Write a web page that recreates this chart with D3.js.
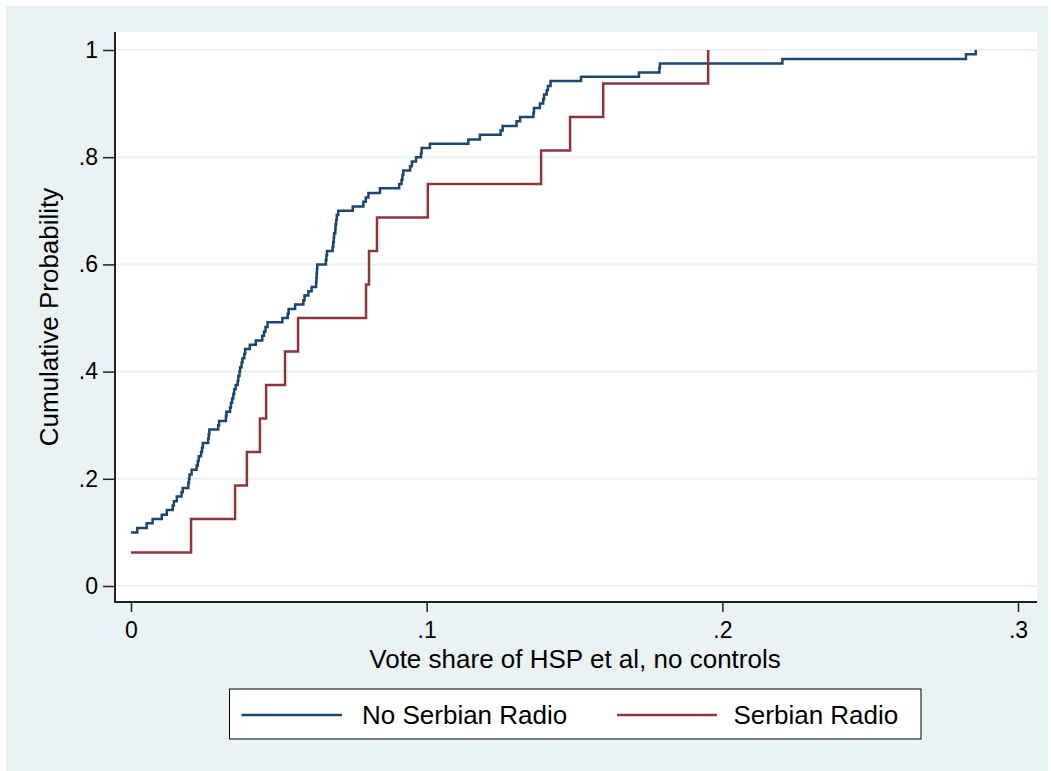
<!DOCTYPE html>
<html>
<head>
<meta charset="utf-8">
<script src="https://cdn.jsdelivr.net/npm/d3@7"></script>
<style>
	body { margin: 0; background: #fff; }
	text { font-family: "Liberation Sans", Arial, Helvetica, sans-serif; fill: #000; }
</style>
</head>
<body>
<svg id="chart" width="1051" height="771"></svg>
<script>
// ECDF of vote share, no Serbian radio
const noRadioX = [0, .0021, .0053, .0073, .0104, .0121, .0141, .0145, .0155, .0171, .0175, .0194, .0196, .0198,
	.0205, .0222, .0226, .0229, .0237, .0240, .0243, .0261, .0263, .0265, .0295, .0298, .0321, .0323, .0335, .0338,
	.0342, .0346, .0349, .0354, .0361, .0363, .0367, .0369, .0374, .0377, .0383, .0386, .0402, .0422, .0444, .0450,
	.0455, .0462, .0512, .0530, .0533, .0555, .0583, .0587, .0600, .0611, .0626, .0627, .0628, .0629, .0630, .0659,
	.0661, .0663, .0682, .0684, .0686, .0687, .0691, .0692, .0694, .0696, .0701, .0750, .0786, .0794, .0803, .0842,
	.0907, .0915, .0918, .0921, .0944, .0950, .0964, .0981, .0983, .1011, .1141, .1180, .1250, .1257, .1304, .1316,
	.1361, .1363, .1383, .1394, .1397, .1406, .1410, .1419, .1522, .1718, .1787, .1789, .2203, .2824, .2857];
const noRadioP = [.100, .108, .117, .125, .133, .142, .150, .158, .167, .175, .183, .192, .200, .208,
	.217, .225, .233, .242, .250, .258, .267, .275, .283, .292, .300, .308, .317, .325, .333, .342,
	.350, .358, .367, .375, .383, .392, .400, .408, .417, .425, .433, .442, .450, .458, .467, .475,
	.483, .492, .500, .508, .517, .525, .533, .542, .550, .558, .567, .575, .583, .592, .600, .608,
	.617, .625, .633, .642, .650, .658, .667, .675, .683, .692, .700, .708, .717, .725, .733, .742,
	.750, .758, .767, .775, .783, .792, .800, .808, .817, .825, .833, .842, .850, .858, .867, .875,
	.883, .892, .900, .908, .917, .925, .933, .942, .950, .958, .967, .975, .983, .992, 1.000];

// ECDF with Serbian radio
const radioX = [0, .0203, .0352, .0392, .0436, .0457, .0521, .0565, .0795, .0805, .0832, .1004, .1387, .1485, .1597, .1952];
const radioP = [.0625, .125, .1875, .25, .3125, .375, .4375, .5, .5625, .625, .6875, .75, .8125, .875, .9375, 1];

const xTicks = [0, .1, .2, .3];
const yTicks = [0, .2, .4, .6, .8, 1];
const xTitle = "Vote share of HSP et al, no controls";
const yTitle = "Cumulative Probability";
const seriesNames = ["No Serbian Radio", "Serbian Radio"];
const seriesColors = ["#1a476f", "#90353b"];

// layout
const W = 1051, H = 771;
const bgBox = {x: 6, y: 6, w: 1042, h: 765};
const plotBox = {left: 115, right: 1037, top: 32, bottom: 602};
const legendBox = {x: 229.5, y: 689, w: 691.5, h: 50};

const svg = d3.select("#chart");

svg.append("rect")
	.attr("x", bgBox.x).attr("y", bgBox.y)
	.attr("width", bgBox.w).attr("height", bgBox.h)
	.attr("fill", "#eaf2f3");

svg.append("rect")
	.attr("x", plotBox.left).attr("y", plotBox.top)
	.attr("width", plotBox.right - plotBox.left).attr("height", plotBox.bottom - plotBox.top)
	.attr("fill", "#fff");

const x = d3.scaleLinear().domain([0, .3]).range([131, 1018]);
const y = d3.scaleLinear().domain([0, 1]).range([586, 50]);

// stata style labels: drop leading zero
const stataFmt = d => d === 0 ? "0" : d === 1 ? "1" : d3.format(".1f")(d).replace(/^0/, "");

// grid
svg.append("g").selectAll("line")
	.data(yTicks)
	.join("line")
	.attr("x1", plotBox.left + 1).attr("x2", plotBox.right)
	.attr("y1", d => y(d)).attr("y2", d => y(d))
	.attr("stroke", "#eaf2f3").attr("stroke-width", 2);

// axes
const yAxis = svg.append("g")
	.attr("transform", `translate(${plotBox.left},0)`)
	.call(d3.axisLeft(y).tickValues(yTicks).tickFormat(stataFmt).tickSize(12).tickPadding(5));
const xAxis = svg.append("g")
	.attr("transform", `translate(0,${plotBox.bottom})`)
	.call(d3.axisBottom(x).tickValues(xTicks).tickFormat(stataFmt).tickSize(10).tickPadding(10));

[yAxis, xAxis].forEach(g => {
	g.select(".domain").remove();
	g.selectAll(".tick line").attr("stroke", "#222").attr("stroke-width", 1.5);
	g.selectAll(".tick text").attr("font-size", 23).style("font-family", "'Liberation Sans', Arial, sans-serif").attr("fill", "#000");
});

svg.append("line")
	.attr("x1", plotBox.left).attr("x2", plotBox.left)
	.attr("y1", plotBox.top).attr("y2", plotBox.bottom + 1)
	.attr("stroke", "#222").attr("stroke-width", 2);
svg.append("line")
	.attr("x1", plotBox.left - 1).attr("x2", plotBox.right)
	.attr("y1", plotBox.bottom).attr("y2", plotBox.bottom)
	.attr("stroke", "#222").attr("stroke-width", 2);

// step lines
const step = d3.line()
	.x(d => x(d[0]))
	.y(d => y(d[1]))
	.curve(d3.curveStepAfter);

const series = [
	d3.zip(noRadioX, noRadioP),
	d3.zip(radioX, radioP)
];

svg.append("g").selectAll("path")
	.data(series)
	.join("path")
	.attr("d", step)
	.attr("fill", "none")
	.attr("stroke", (d, i) => seriesColors[i])
	.attr("stroke-width", 2.5);

// titles
svg.append("text")
	.attr("x", (plotBox.left + plotBox.right) / 2 - 1).attr("y", 668)
	.attr("text-anchor", "middle")
	.attr("font-size", 26)
	.text(xTitle);

svg.append("text")
	.attr("transform", `translate(58,${(plotBox.top + plotBox.bottom) / 2}) rotate(-90)`)
	.attr("text-anchor", "middle")
	.attr("font-size", 26)
	.text(yTitle);

// legend
svg.append("rect")
	.attr("x", legendBox.x).attr("y", legendBox.y)
	.attr("width", legendBox.w).attr("height", legendBox.h)
	.attr("fill", "#fff").attr("stroke", "#000").attr("stroke-width", 1);

const legendItems = [{x0: 241.5, x1: 342, tx: 362}, {x0: 617, x1: 717, tx: 733.5}];
const ly = legendBox.y + legendBox.h / 2 + 1;
const leg = svg.append("g").selectAll("g")
	.data(seriesNames)
	.join("g");
leg.append("line")
	.attr("x1", (d, i) => legendItems[i].x0).attr("x2", (d, i) => legendItems[i].x1)
	.attr("y1", ly).attr("y2", ly)
	.attr("stroke", (d, i) => seriesColors[i]).attr("stroke-width", 2.4);
leg.append("text")
	.attr("x", (d, i) => legendItems[i].tx).attr("y", ly + 9)
	.attr("font-size", 26)
	.text(d => d);
</script>
</body>
</html>
